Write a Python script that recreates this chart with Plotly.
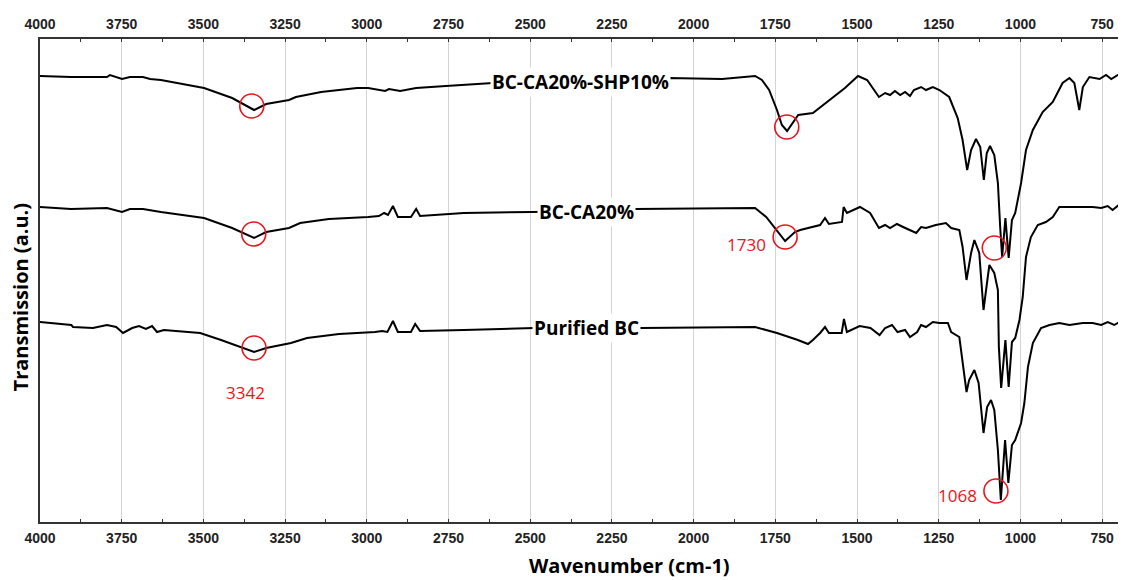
import plotly.graph_objects as go

# ---- data (wavenumber in cm-1, transmission in arbitrary units) ----
shp_wn = [4000, 3905, 3795, 3786, 3749, 3725, 3685, 3663, 3630, 3498, 3412, 3345, 3308, 3238, 3217,
          3140, 3030, 2996, 2944, 2932, 2898, 2883, 2849, 2758, 2614, 2348, 2078, 1913, 1812, 1791,
          1769, 1745, 1730, 1714, 1696, 1680, 1635, 1592, 1537, 1497, 1469, 1433, 1414, 1399, 1384,
          1368, 1353, 1338, 1326, 1304, 1289, 1268, 1248, 1218, 1192, 1177, 1163, 1151, 1136, 1123,
          1112, 1103, 1093, 1080, 1069, 1062, 1056, 1046, 1036, 1026, 1016, 998, 983, 962, 932,
          901, 871, 850, 835, 820, 809, 789, 758, 738, 722, 697, 677, 665]
shp_t = [446, 445, 445, 447, 443, 445, 445, 443, 442, 434, 424, 412, 418, 422, 425,
         430, 434, 434, 431, 433, 431, 432, 434, 436, 439, 442, 444, 443, 446, 442,
         432, 412, 397, 391, 399, 407, 409, 420, 434, 446, 442, 425, 429, 427, 431,
         427, 430, 426, 432, 435, 432, 435, 432, 425, 404, 382, 352, 372, 383, 375,
         342, 369, 376, 367, 339, 295, 265, 304, 264, 302, 309, 339, 372, 392, 410,
         420, 439, 444, 439, 412, 435, 445, 443, 447, 443, 448, 429, 412]

ca_wn = [4000, 3905, 3795, 3749, 3725, 3685, 3630, 3498, 3412, 3345, 3308, 3238, 3204, 3116, 2996,
         2963, 2947, 2935, 2920, 2905, 2865, 2849, 2837, 2703, 2494, 2348, 2182, 1812, 1778, 1745,
         1720, 1690, 1674, 1613, 1598, 1586, 1546, 1541, 1531, 1491, 1460, 1433, 1414, 1399, 1378,
         1359, 1338, 1319, 1304, 1289, 1259, 1228, 1212, 1187, 1177, 1165, 1151, 1141, 1126, 1113,
         1100, 1095, 1080, 1069, 1066, 1059, 1046, 1036, 1026, 1016, 1003, 993, 983, 968, 947,
         922, 901, 881, 830, 779, 753, 733, 718, 699, 687, 677, 665]
ca_t = [315, 313, 314, 310, 313, 313, 310, 304, 294, 284, 290, 294, 299, 303, 305,
        306, 309, 307, 316, 305, 305, 313, 306, 309, 310, 311, 313, 314, 305, 292,
        281, 290, 292, 297, 304, 298, 300, 315, 309, 315, 309, 294, 297, 294, 298,
        295, 292, 289, 295, 294, 297, 299, 294, 292, 275, 242, 269, 282, 269, 212,
        245, 257, 249, 232, 175, 134, 182, 135, 180, 184, 202, 225, 265, 285, 297,
        300, 305, 315, 315, 315, 314, 316, 312, 317, 305, 292, 272]

bc_wn = [4000, 3904, 3899, 3838, 3795, 3767, 3746, 3718, 3697, 3676, 3657, 3642, 3621, 3576, 3510,
         3446, 3379, 3345, 3308, 3232, 3183, 3085, 2975, 2953, 2937, 2920, 2905, 2865, 2852, 2837,
         2703, 2488, 2348, 2161, 1812, 1745, 1681, 1650, 1635, 1613, 1598, 1586, 1547, 1540, 1531,
         1492, 1459, 1431, 1414, 1393, 1376, 1353, 1338, 1316, 1304, 1289, 1268, 1248, 1222, 1212,
         1187, 1177, 1165, 1157, 1141, 1128, 1113, 1102, 1090, 1080, 1069, 1060, 1047, 1037, 1026,
         1016, 998, 988, 977, 962, 937, 911, 881, 850, 809, 779, 753, 733, 713, 697, 687, 677, 665]
bc_t = [200, 197, 195, 194, 197, 195, 189, 194, 196, 193, 196, 190, 192, 191, 189,
        182, 174, 170, 174, 179, 184, 188, 190, 191, 190, 201, 190, 190, 198, 191,
        192, 194, 194, 194, 195, 189, 182, 178, 182, 189, 195, 189, 189, 203, 190,
        196, 194, 187, 194, 197, 190, 192, 185, 190, 197, 195, 200, 199, 199, 190,
        185, 162, 130, 142, 152, 139, 89, 115, 122, 112, 72, 22, 82, 39, 77,
        82, 99, 119, 155, 179, 194, 197, 199, 197, 199, 199, 197, 200, 197, 200, 189, 172, 152]

series_names = ["BC-CA20%-SHP10%", "BC-CA20%", "Purified BC"]
label_wn = [2345, 2329, 2328]
label_t = [440, 310, 194]

circle_wn = [3352, 3346, 3345, 1715, 1720, 1080, 1075]
circle_t = [416, 288, 174, 395, 285, 274, 31]

peak_text = ["3342", "1730", "1068"]
peak_text_wn = [3371, 1837, 1192]
peak_text_t = [130, 278, 27]

tick_vals = [4000, 3750, 3500, 3250, 3000, 2750, 2500, 2250, 2000, 1750, 1500, 1250, 1000, 750]
tick_text = [str(v) for v in tick_vals]

x_range = [4000, 677]
y_range = [0, 483]

# ---- figure ----
fig = go.Figure()
for wn, t, name in [(shp_wn, shp_t, series_names[0]), (ca_wn, ca_t, series_names[1]),
                    (bc_wn, bc_t, series_names[2])]:
    fig.add_trace(go.Scatter(x=wn, y=t, mode="lines", name=name,
                             line=dict(color="black", width=2), showlegend=False,
                             hoverinfo="skip"))

fig.add_trace(go.Scatter(x=circle_wn, y=circle_t, mode="markers", xaxis="x2",
                         marker=dict(symbol="circle-open", size=24,
                                     line=dict(color="#e8141c", width=1.6), color="#e8141c"),
                         showlegend=False, hoverinfo="skip"))

tick_font = dict(family="Liberation Sans, Arial", size=14, color="#222")
axis_common = dict(range=x_range, tickvals=tick_vals, ticktext=[f"<b>{t}</b>" for t in tick_text],
                   ticks="inside", ticklen=3, tickwidth=1.2, tickcolor="#333",
                   showline=True, linecolor="#333", linewidth=2, automargin=False,
                   tickfont=tick_font, zeroline=False, ticklabelstandoff=2,
                   minor=dict(dtick=125, tick0=4000, ticks="inside", ticklen=3,
                              tickcolor="#333", tickwidth=1.2, showgrid=False))

# the page body adds an 8px offset, so the figure is 8px smaller and margins are shifted
fig.update_layout(
    width=1118, height=572,
    margin=dict(l=32, r=0, t=31, b=58),
    plot_bgcolor="white", paper_bgcolor="white",
    xaxis=dict(**axis_common, side="bottom", showgrid=True, gridcolor="#d4d4d4", gridwidth=1),
    xaxis2=dict(**axis_common, side="top", overlaying="x", matches="x", showgrid=False),
    yaxis=dict(range=y_range, showline=True, linecolor="#333", linewidth=2, automargin=False,
               showticklabels=False, ticks="", showgrid=False, zeroline=False),
)

label_font = dict(family="Open Sans", size=19, color="black")
for name, xw, yt in zip(series_names, label_wn, label_t):
    fig.add_annotation(x=xw, y=yt, xref="x", yref="y", text=f"<b>{name}</b>", showarrow=False,
                       font=label_font, bgcolor="white", borderpad=1)

for txt, xw, yt in zip(peak_text, peak_text_wn, peak_text_t):
    fig.add_annotation(x=xw, y=yt, xref="x", yref="y", text=txt, showarrow=False,
                       font=dict(family="Open Sans", size=17, color="#e8141c"))

fig.add_annotation(x=0.543, y=-0.091, xref="paper", yref="paper", text="<b>Wavenumber (cm-1)</b>",
                   xanchor="center", yanchor="middle", showarrow=False,
                   font=dict(family="Open Sans", size=20, color="black"))
fig.add_annotation(x=-0.0184, y=0.465, xref="paper", yref="paper", text="<b>Transmission (a.u.)</b>",
                   xanchor="center", yanchor="middle", textangle=-90, showarrow=False,
                   font=dict(family="Open Sans", size=20, color="black"))

fig.write_html("out.html")
